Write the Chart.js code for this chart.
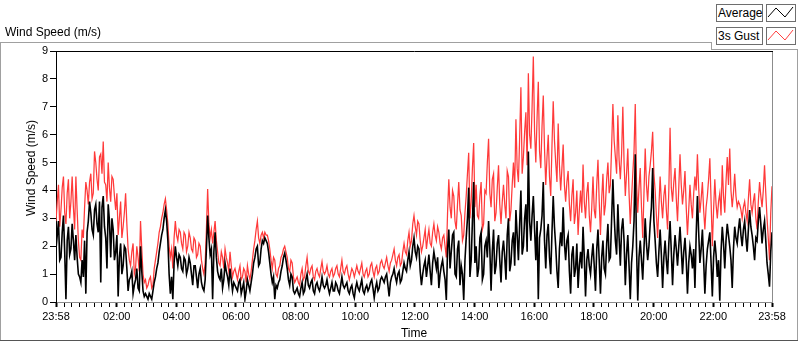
<!DOCTYPE html>
<html>
<head>
<meta charset="utf-8">
<title>Wind Speed</title>
<script src="https://cdn.jsdelivr.net/npm/chart.js@4.4.1/dist/chart.umd.min.js"></script>
<style>
  html, body { margin: 0; padding: 0; background: #fff; }
  #panel { position: relative; width: 800px; height: 342px; overflow: hidden;
           font-family: 'Liberation Sans', Arial, sans-serif; font-size: 12px; color: #000; }
  #chart { position: absolute; left: 0; top: 0; }
  .rule { position: absolute; background: #a0a0a0; }
  .lbl { position: absolute; white-space: nowrap; line-height: 14px; }
  .legend-box { position: absolute; box-sizing: border-box; height: 18px; border: 1px solid #6e6e6e;
                background: #fff; line-height: 16px; padding-left: 1px; white-space: nowrap; }
  .legend-icon { position: absolute; box-sizing: border-box; width: 30px; height: 18px;
                 border: 1px solid #6e6e6e; background: #fff; }
  .legend-icon svg { position: absolute; left: 0; top: 0; }
  #yTitle { left: 31px; top: 168px; transform: translate(-50%, -50%) rotate(-90deg); }
</style>
</head>
<body>
<div id="panel">
  <!-- panel frame -->
  <div class="rule" style="left:0;top:42px;width:712px;height:1px"></div>
  <div class="rule" style="left:711px;top:42px;width:1px;height:8px"></div>
  <div class="rule" style="left:711px;top:49px;width:87px;height:1px"></div>
  <div class="rule" style="left:797px;top:49px;width:1px;height:292px"></div>
  <div class="rule" style="left:0;top:42px;width:1px;height:299px"></div>
  <div class="rule" style="left:0;top:340px;width:798px;height:1px;background:#555"></div>

  <canvas id="chart" width="800" height="342"></canvas>

  <div class="lbl" style="left:5px;top:25px">Wind Speed (m/s)</div>
  <div class="lbl" id="yTitle">Wind Speed (m/s)</div>

  <div class="legend-box" style="left:716px;top:4px;width:47px">Average</div>
  <div class="legend-icon" style="left:766px;top:4px">
    <svg width="28" height="16"><polyline points="1,12 9,3 18,12 26,2" fill="none" stroke="#000" stroke-width="1"/></svg>
  </div>
  <div class="legend-box" style="left:716px;top:27px;width:47px">3s Gust</div>
  <div class="legend-icon" style="left:766px;top:27px">
    <svg width="28" height="16"><polyline points="1,12 9,3 18,12 26,2" fill="none" stroke="#ff4040" stroke-width="1"/></svg>
  </div>
</div>

<script>
// time axis in minutes from midnight; the log starts at 23:58 the day before
const START_MIN = -2;
const STEP_MIN = 2.5;
const END_MIN = 1438;

const majorTicks = [-2, 120, 240, 360, 480, 600, 720, 840, 960, 1080, 1200, 1320, 1438];
const majorTickLabels = ['23:58', '02:00', '04:00', '06:00', '08:00', '10:00', '12:00',
                         '14:00', '16:00', '18:00', '20:00', '22:00', '23:58'];

// 2.5-minute samples, one row per hour
const avgSpeed = [
  1.9, 2.4, 2.9, 1.5, 1.6, 2.5, 3.1, 1.8, 0.1, 2.2, 2.7, 1.7, 1.9, 2.8, 2.2, 1.5, 2.4, 1.6, 1.0, 0.9, 0.7, 1.5, 0.9, 2.2,
  0.3, 2.5, 2.9, 3.6, 3.2, 2.6, 2.4, 3.3, 3.5, 2.8, 2.5, 3.6, 0.7, 3.4, 3.8, 2.7, 2.3, 1.2, 3.5, 2.9, 1.6, 3.0, 2.6, 1.5,
  1.8, 2.4, 0.2, 1.6, 2.1, 1.0, 1.3, 2.0, 1.9, 1.2, 0.4, 0.8, 0.9, 1.1, 0.3, 0.6, 0.8, 1.2, 0.5, 0.4, 2.0, 1.1, 0.4, 0.2,
  0.3, 0.2, 0.1, 0.3, 0.2, 0.1, 0.4, 0.7, 0.9, 1.2, 1.4, 1.8, 2.1, 2.4, 2.6, 3.0, 3.3, 2.9, 2.2, 1.0, 0.3, 0.9, 0.1, 1.4,
  2.0, 1.6, 1.3, 1.7, 1.6, 1.2, 1.1, 1.6, 1.5, 1.0, 1.2, 1.6, 1.4, 1.0, 0.6, 1.3, 1.3, 0.9, 0.5, 1.0, 1.2, 0.7, 0.5, 0.4,
  0.8, 1.9, 3.1, 2.3, 1.7, 1.9, 0.1, 1.8, 2.5, 1.6, 1.1, 0.9, 0.8, 1.2, 0.5, 0.8, 1.4, 1.1, 0.9, 0.6, 1.2, 0.8, 0.4, 0.7,
  0.6, 0.5, 0.4, 0.7, 0.8, 0.3, 0.5, 0.7, 0.1, 0.4, 0.8, 0.6, 0.4, 0.7, 1.0, 1.4, 1.6, 1.9, 2.0, 1.3, 1.4, 1.9, 2.2, 2.1,
  2.3, 2.2, 2.1, 1.8, 1.4, 1.0, 0.7, 0.9, 0.1, 0.6, 0.5, 0.7, 0.8, 1.1, 1.3, 1.6, 1.75, 1.5, 1.2, 0.8, 0.6, 1.0, 0.9, 0.4,
  0.3, 0.4, 0.5, 0.3, 0.2, 0.5, 0.7, 0.3, 0.4, 0.8, 1.0, 0.6, 0.5, 0.7, 0.8, 0.4, 0.3, 0.6, 0.7, 0.5, 0.4, 0.6, 0.9, 0.6,
  0.5, 0.6, 0.8, 0.5, 0.3, 0.5, 0.7, 0.4, 0.4, 0.7, 0.6, 0.4, 0.3, 0.6, 0.9, 0.6, 0.5, 0.6, 0.7, 0.4, 0.3, 0.5, 0.6, 0.3,
  0.15, 0.5, 0.7, 0.5, 0.4, 0.6, 0.8, 0.4, 0.3, 0.5, 0.6, 0.4, 0.5, 0.7, 0.8, 0.5, 0.15, 0.5, 0.7, 0.4, 0.5, 0.8, 0.9, 0.8,
  0.7, 0.9, 1.0, 0.6, 0.2, 0.7, 0.9, 1.0, 1.2, 0.9, 0.7, 1.0, 1.1, 0.7, 0.8, 1.1, 1.4, 1.2, 1.1, 1.5, 1.8, 1.3, 1.5, 2.0,
  2.3, 1.8, 1.6, 2.0, 1.9, 1.1, 0.6, 1.0, 1.3, 1.5, 0.9, 1.3, 1.7, 1.1, 0.6, 1.4, 1.8, 1.5, 1.2, 1.6, 0.5, 1.0, 1.3, 1.5,
  1.1, 0.8, 0.07, 1.9, 2.6, 1.2, 1.8, 2.4, 2.5, 1.0, 0.9, 1.9, 2.2, 0.6, 1.3, 1.0, 0.07, 1.5, 2.3, 3.0, 4.1, 0.9, 1.5, 2.9,
  4.3, 1.4, 2.0, 0.9, 1.2, 2.3, 2.5, 0.8, 1.0, 2.0, 2.2, 1.6, 2.9, 1.9, 0.4, 1.8, 2.6, 1.0, 1.3, 2.1, 2.4, 1.5, 0.7, 1.8,
  2.2, 1.6, 0.8, 2.4, 3.0, 1.1, 1.4, 2.2, 2.5, 1.3, 3.3, 2.4, 1.5, 2.8, 4.0, 1.7, 2.0, 3.0, 3.5, 1.8, 5.4, 2.9, 2.2, 3.1,
  3.8, 2.6, 1.5, 2.9, 0.1, 2.3, 2.6, 3.1, 4.3, 2.2, 1.2, 2.4, 2.8, 1.6, 1.0, 2.5, 3.8, 2.7, 2.0, 1.1, 0.5, 1.9, 2.5, 2.0,
  3.4, 2.1, 1.5, 2.2, 2.4, 1.1, 0.3, 1.7, 2.0, 0.9, 1.2, 2.1, 0.5, 1.3, 1.8, 1.2, 2.7, 1.6, 0.2, 1.5, 1.9, 1.3, 1.0, 1.6,
  2.1, 1.3, 0.4, 1.9, 2.6, 1.5, 0.3, 1.6, 2.2, 1.2, 1.0, 2.1, 2.8, 1.5, 1.6, 3.0, 4.4, 3.1, 2.2, 1.7, 3.5, 2.3, 1.3, 2.6,
  3.0, 2.2, 0.6, 1.7, 2.4, 1.3, 0.1, 1.4, 2.0, 2.9, 5.3, 2.0, 0.05, 1.6, 2.2, 1.5, 0.8, 1.9, 3.0, 2.1, 1.5, 2.0, 2.8, 3.4,
  4.8, 2.9, 2.2, 1.4, 0.9, 1.8, 2.6, 1.7, 0.5, 1.6, 2.2, 1.5, 1.0, 2.1, 2.9, 1.8, 0.6, 1.7, 2.4, 1.9, 1.3, 2.0, 2.7, 1.9,
  1.0, 1.8, 2.3, 1.5, 0.3, 1.4, 2.0, 1.7, 1.2, 1.9, 0.5, 2.4, 3.8, 2.5, 1.4, 1.9, 2.6, 1.5, 0.3, 1.3, 1.9, 2.2, 2.5, 1.4,
  0.2, 1.6, 2.2, 1.7, 0.9, 1.5, 0.05, 1.8, 2.7, 2.1, 1.2, 2.2, 2.8, 2.4, 2.0, 1.5, 0.5, 1.9, 2.7, 2.3, 2.1, 2.6, 3.0, 2.4,
  2.0, 2.6, 2.9, 2.3, 1.8, 2.6, 3.3, 2.7, 2.4, 2.0, 1.5, 2.3, 2.2, 2.9, 3.4, 2.8, 2.1, 2.6, 2.9, 2.2, 1.4, 1.0, 0.55, 1.8, 2.5
];

const gustSpeed = [
  2.9, 3.6, 4.2, 2.7, 3.3, 4.1, 4.5, 3.2, 2.8, 3.9, 4.4, 3.0, 3.6, 4.5, 3.4, 2.6, 4.5, 3.3, 2.2, 1.6, 1.5, 2.6, 2.3, 3.4,
  4.3, 4.0, 3.5, 4.3, 4.6, 3.7, 3.9, 5.4, 5.0, 4.4, 4.0, 5.2, 5.3, 4.6, 5.75, 4.3, 4.2, 3.6, 5.0, 4.1, 3.6, 4.5, 4.4, 3.8,
  3.3, 3.9, 2.4, 3.0, 3.6, 2.3, 2.7, 3.2, 3.9, 2.8, 1.9, 1.5, 1.3, 1.8, 2.1, 1.0, 1.2, 2.0, 1.6, 1.1, 2.9, 1.9, 1.0, 0.7,
  0.8, 0.5, 0.6, 0.8, 0.9, 0.5, 0.6, 1.2, 1.5, 1.8, 2.1, 2.5, 2.7, 3.0, 3.2, 3.5, 3.7, 3.3, 2.8, 2.0, 1.6, 1.9, 1.2, 2.3,
  2.9, 2.4, 2.2, 2.6, 2.5, 2.1, 1.9, 2.5, 2.4, 1.8, 2.0, 2.5, 2.3, 1.9, 1.8, 2.3, 2.2, 1.6, 1.7, 2.1, 2.0, 1.5, 1.2, 1.0,
  1.4, 2.6, 4.05, 2.8, 2.3, 2.6, 2.1, 2.5, 2.9, 2.2, 1.8, 1.4, 1.3, 1.8, 1.6, 1.2, 1.9, 1.6, 1.4, 1.1, 1.8, 1.3, 0.9, 1.1,
  1.2, 1.0, 0.8, 1.1, 1.3, 0.8, 0.9, 1.2, 1.1, 0.7, 1.3, 1.0, 0.8, 1.1, 1.5, 1.9, 2.2, 2.6, 2.9, 2.3, 2.1, 2.4, 2.5, 2.3,
  2.5, 2.4, 2.4, 2.2, 1.9, 1.5, 1.2, 1.6, 1.5, 1.0, 0.9, 1.2, 1.3, 1.6, 1.7, 1.9, 2.0, 1.8, 1.6, 1.2, 1.1, 1.5, 1.4, 0.9,
  0.7, 0.8, 0.9, 0.7, 0.6, 1.0, 1.2, 0.8, 0.9, 1.3, 1.6, 1.1, 1.0, 1.2, 1.3, 0.9, 0.8, 1.1, 1.2, 1.0, 0.9, 1.2, 1.45, 1.1,
  1.0, 1.1, 1.3, 1.0, 0.9, 1.1, 1.2, 0.9, 1.0, 1.2, 1.3, 1.0, 0.9, 1.2, 1.5, 1.1, 1.0, 1.2, 1.3, 1.0, 0.8, 1.0, 1.2, 1.1,
  0.9, 1.1, 1.3, 1.1, 1.0, 1.2, 1.4, 1.0, 0.9, 1.1, 1.2, 0.9, 1.0, 1.3, 1.4, 1.1, 0.9, 1.2, 1.3, 1.0, 1.1, 1.4, 1.5, 1.3,
  1.2, 1.4, 1.6, 1.3, 1.1, 1.4, 1.5, 1.7, 1.9, 1.5, 1.3, 1.6, 1.7, 1.3, 1.4, 1.8, 2.1, 1.8, 1.7, 2.2, 2.5, 2.0, 2.2, 2.8,
  3.1, 2.7, 2.4, 2.9, 2.8, 2.2, 1.8, 2.0, 2.3, 2.6, 1.9, 2.3, 2.6, 2.1, 2.0, 2.5, 2.8, 2.4, 2.2, 2.7, 2.5, 2.1, 1.9, 2.3,
  2.4, 2.0, 1.6, 3.2, 4.4, 3.4, 3.0, 4.0, 3.8, 2.9, 2.6, 3.5, 4.3, 3.3, 3.1, 2.2, 2.4, 3.2, 3.8, 4.6, 5.35, 3.0, 3.6, 4.8,
  5.7, 3.4, 4.2, 3.1, 3.0, 3.8, 4.3, 2.6, 2.8, 4.0, 3.9, 5.0, 5.85, 3.9, 3.4, 4.4, 4.6, 2.9, 3.2, 4.1, 4.9, 3.5, 2.8, 3.6,
  4.2, 3.5, 3.0, 4.7, 4.5, 2.9, 3.3, 4.2, 5.0, 4.1, 6.55, 4.8, 4.3, 5.9, 7.7, 4.6, 5.2, 6.1, 6.8, 4.9, 8.2, 6.0, 5.5, 7.0,
  8.8, 6.1, 5.0, 6.6, 7.9, 5.4, 4.8, 6.3, 7.4, 5.5, 4.2, 5.2, 6.0, 4.5, 3.8, 5.6, 7.2, 5.8, 5.0, 4.3, 6.4, 4.9, 4.0, 4.8,
  5.65, 4.2, 3.6, 4.3, 4.7, 3.5, 2.9, 3.8, 4.4, 2.8, 3.2, 4.0, 2.4, 3.3, 4.0, 3.2, 4.93, 3.6, 3.0, 3.9, 4.3, 3.1, 2.5, 3.4,
  4.5, 3.3, 3.0, 4.2, 5.1, 3.6, 2.4, 3.7, 4.6, 3.1, 3.5, 4.4, 5.0, 3.9, 4.2, 5.6, 7.1, 5.8, 5.2, 4.6, 6.7, 5.1, 4.4, 5.3,
  7.0, 5.0, 3.8, 4.6, 5.5, 3.9, 2.8, 3.7, 4.6, 5.4, 7.1, 4.3, 3.2, 4.1, 4.8, 3.4, 2.3, 3.9, 5.5, 4.2, 3.6, 4.5, 4.9, 5.4,
  6.1, 4.6, 4.0, 3.1, 2.3, 3.4, 4.5, 3.6, 3.0, 3.8, 4.2, 3.3, 2.6, 4.0, 6.25, 4.1, 3.6, 4.3, 4.8, 3.7, 2.9, 4.1, 5.3, 4.2,
  3.5, 4.0, 4.7, 3.4, 2.4, 3.3, 4.2, 3.5, 3.0, 3.9, 4.5, 4.0, 5.3, 4.1, 3.2, 3.7, 4.3, 3.3, 2.6, 3.4, 3.8, 4.4, 5.15, 3.6,
  2.0, 3.3, 4.4, 3.5, 3.0, 3.6, 3.9, 3.1, 4.9, 3.8, 3.2, 4.3, 5.2, 4.2, 5.5, 4.0, 3.4, 3.9, 4.6, 3.8, 3.4, 3.6, 3.5, 3.3,
  3.0, 3.4, 3.6, 3.2, 2.9, 3.7, 4.4, 3.5, 3.2, 3.6, 3.9, 3.0, 2.6, 3.6, 4.3, 3.8, 3.4, 4.0, 4.9, 3.9, 3.0, 2.3, 1.5, 3.2, 4.15
];

const toPoints = arr => arr.map((v, i) => ({ x: START_MIN + i * STEP_MIN, y: v }));

// minor ticks every quarter hour between the labelled ones
const minorTicks = [];
for (let m = 15; m < END_MIN; m += 15) {
  if (m % 120 !== 0) minorTicks.push(m);
}
const xTickValues = [...majorTicks, ...minorTicks].sort((a, b) => a - b);
const isMajor = v => majorTicks.includes(v);

// black top edge and grey right edge of the plot area
const plotFrame = {
  id: 'plotFrame',
  afterDraw(chart) {
    const { ctx, chartArea: a } = chart;
    ctx.save();
    ctx.lineWidth = 1;
    ctx.strokeStyle = '#000';
    ctx.beginPath();
    ctx.moveTo(a.left, a.top + 0.5);
    ctx.lineTo(a.right + 1, a.top + 0.5);
    ctx.stroke();
    ctx.strokeStyle = '#8c8c8c';
    ctx.beginPath();
    ctx.moveTo(a.right + 0.5, a.top + 1);
    ctx.lineTo(a.right + 0.5, a.bottom);
    ctx.stroke();
    ctx.restore();
  }
};

Chart.defaults.font.family = "'Liberation Sans', Arial, sans-serif";
Chart.defaults.color = '#000';

new Chart(document.getElementById('chart').getContext('2d'), {
  type: 'line',
  data: {
    datasets: [
      {
        label: 'Average',
        data: toPoints(avgSpeed),
        borderColor: '#000',
        borderWidth: 1.6,
        pointRadius: 0,
        tension: 0
      },
      {
        label: '3s Gust',
        data: toPoints(gustSpeed),
        borderColor: '#ff3a3a',
        borderWidth: 1.25,
        pointRadius: 0,
        tension: 0
      }
    ]
  },
  options: {
    responsive: false,
    animation: false,
    devicePixelRatio: 1,
    layout: { padding: { top: 51, right: 28, bottom: 0, left: 0 } },
    plugins: {
      legend: { display: false },
      tooltip: { enabled: false }
    },
    scales: {
      x: {
        type: 'linear',
        min: START_MIN,
        max: END_MIN,
        afterBuildTicks: s => { s.ticks = xTickValues.map(v => ({ value: v })); },
        afterFit: s => { s.height = 40; },
        ticks: {
          autoSkip: false,
          maxRotation: 0,
          padding: 3,
          font: { size: 11 },
          callback: v => {
            const k = majorTicks.indexOf(v);
            return k >= 0 ? majorTickLabels[k] : '';
          }
        },
        grid: {
          drawOnChartArea: false,
          tickLength: 5,
          tickColor: '#000',
          tickWidth: ctx => (ctx.tick && isMajor(ctx.tick.value) ? 2 : 1)
        },
        border: { color: '#8c8c8c', width: 1 },
        title: {
          display: true,
          text: 'Time',
          font: { size: 12 },
          padding: { top: 0, bottom: 1 }
        }
      },
      y: {
        min: 0,
        max: 9,
        afterFit: s => { s.width = 56; },
        ticks: { stepSize: 1, padding: 2, font: { size: 11 } },
        grid: {
          drawOnChartArea: false,
          tickLength: 6,
          tickColor: '#000'
        },
        border: { color: '#000', width: 1 }
      }
    }
  },
  plugins: [plotFrame]
});
</script>
</body>
</html>
